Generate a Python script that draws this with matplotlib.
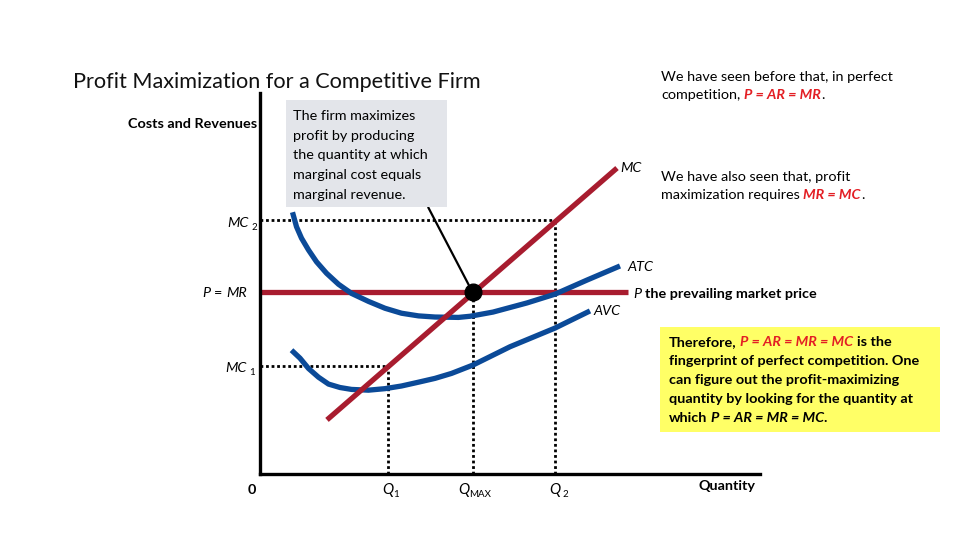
import matplotlib.pyplot as plt
from matplotlib.patches import Rectangle

plt.rcParams['font.family'] = ['Lato', 'DejaVu Sans']

# price / quantity values (quantity 0-100, price 0-100)
mc_q = [13.4, 71.4]
mc_p = [14.2, 80.3]

atc_q = [6.5, 7.3, 8.3, 9.7, 11.3, 13.3, 15.7, 18.3, 21.7, 25.0, 28.3, 31.7, 35.0, 39.7,
         42.0, 46.6, 53.4, 59.0, 65.4, 72.0]
atc_p = [68.7, 64.9, 61.9, 58.8, 55.7, 52.7, 49.8, 47.4, 45.3, 43.5, 42.2, 41.5, 41.2, 41.1,
         41.4, 42.5, 44.9, 47.2, 50.9, 54.6]

avc_q = [6.3, 8.0, 9.7, 11.7, 13.7, 16.0, 18.3, 21.7, 25.0, 28.3, 31.7, 35.0, 38.3,
         42.6, 50.0, 59.0, 66.0]
avc_p = [32.5, 30.4, 27.7, 25.4, 23.6, 22.7, 22.2, 22.0, 22.4, 23.1, 24.1, 25.1, 26.4,
         28.6, 33.4, 38.3, 42.8]

price = 47.8
price_end = 73.6
mc1, mc2 = 28.3, 66.7
q1, q_max, q2 = 25.6, 42.6, 59.0

RED_LINE = '#A81C2F'
BLUE = '#0B4A98'
RED_TXT = '#E31E24'
FS = 10.4

W, H = 960, 540
fig = plt.figure(figsize=(9.6, 5.4), dpi=100)
renderer = fig.canvas.get_renderer()


def fx(x):
    return x / W


def fy(y):
    return 1 - y / H


def rich(x, y, parts, size=FS, ha='left'):
    # parts: (text, props) placed one after another on a shared baseline
    made = []
    cur = 0.0
    for s, props in parts:
        props = dict(props)
        fs = props.pop('size', size)
        dy = props.pop('dy', 0)
        core = s.strip(' ')
        lead = len(s) - len(s.lstrip(' '))
        trail = len(s) - len(s.rstrip(' '))
        probe1 = fig.text(0, 0, 'a a', fontsize=fs, **props)
        probe2 = fig.text(0, 0, 'aa', fontsize=fs, **props)
        sp = probe1.get_window_extent(renderer).width - probe2.get_window_extent(renderer).width
        probe1.remove()
        probe2.remove()
        cur += lead * sp
        t = fig.text(0, 0, core, fontsize=fs, va='baseline', ha='left', **props)
        made.append((t, cur, dy))
        cur += t.get_window_extent(renderer).width + trail * sp
    x0 = x - cur if ha == 'right' else x
    for t, off, dy in made:
        t.set_position((fx(x0 + off), fy(y + dy)))


ax = fig.add_axes([fx(260), fy(474), 500 / W, 381 / H])
ax.patch.set_alpha(0)
ax.set_zorder(0)
ax.set_xlim(0, 100)
ax.set_ylim(0, 100)
for side in ['top', 'right']:
    ax.spines[side].set_visible(False)
for side in ['left', 'bottom']:
    ax.spines[side].set_linewidth(2.4)
    ax.spines[side].set_capstyle('projecting')
ax.set_xticks([])
ax.set_yticks([])

dot = dict(color='black', lw=2, linestyle=(0, (1, 1)), dash_capstyle='butt', zorder=1)
ax.plot([0, q2], [mc2, mc2], **dot)
ax.plot([q2, q2], [0, mc2], **dot)
ax.plot([0, q1], [mc1, mc1], **dot)
ax.plot([q1, q1], [0, mc1], **dot)
ax.plot([q_max, q_max], [0, price], **dot)

ax.plot([0, price_end], [price, price], color=RED_LINE, lw=3.8, solid_capstyle='butt', zorder=2)
ax.plot(atc_q, atc_p, color=BLUE, lw=3.8, solid_capstyle='butt', solid_joinstyle='round', zorder=3)
ax.plot(avc_q, avc_p, color=BLUE, lw=3.8, solid_capstyle='butt', solid_joinstyle='round', zorder=3)
ax.plot(mc_q, mc_p, color=RED_LINE, lw=3.8, solid_capstyle='butt', zorder=4)
ax.plot([q_max], [price], 'o', color='black', markersize=12, zorder=6)

# pointer from the grey note to the optimum
ax.annotate('', xy=(q_max - 0.6, price + 1.2), xytext=(fx(427), fy(205)),
            textcoords='figure fraction',
            arrowprops=dict(arrowstyle='-', color='black', lw=1.6), zorder=5)

# title and axis texts
fig.text(fx(73), fy(88), 'Profit Maximization for a Competitive Firm',
         fontsize=15.6, color='#111111', va='baseline')
fig.text(fx(257), fy(128), 'Costs and Revenues', fontsize=FS, fontweight='bold',
         ha='right', va='baseline')

# grey note
fig.add_artist(Rectangle((fx(286), fy(207)), 161 / W, 107 / H, transform=fig.transFigure,
                         facecolor='#E3E5EA', edgecolor='none', zorder=1))
note = ['The firm maximizes', 'profit by producing', 'the quantity at which',
        'marginal cost equals', 'marginal revenue.']
for i, line in enumerate(note):
    fig.text(fx(293), fy(120 + i * 19.7), line, fontsize=FS, va='baseline')

it = dict(fontstyle='italic')
sub = dict(size=7, dy=3)
rich(257, 227, [('MC', it), (' 2', sub)], ha='right')
rich(255, 372, [('MC', it), (' 1', sub)], ha='right')
rich(247, 297, [('P', it), (' = ', {}), ('MR', it)], ha='right')
rich(620, 172, [('MC', it)])
rich(627, 271, [('ATC', it)])
rich(593, 315, [('AVC', it)])
rich(633, 298, [('P', it), (' the prevailing market price', dict(fontweight='bold'))])

fig.text(fx(252), fy(494), '0', fontsize=FS, fontweight='bold', ha='center', va='baseline')
rich(382, 494, [('Q', it), ('1', sub)], size=10.8)
rich(458, 494, [('Q', it), ('MAX', sub)], size=10.8)
rich(549, 494, [('Q', it), (' 2', sub)], size=10.8)
fig.text(fx(727), fy(490), 'Quantity', fontsize=FS, fontweight='bold', ha='center', va='baseline')

# explanations on the right
red_bi = dict(color=RED_TXT, fontweight='bold', fontstyle='italic')
rich(661, 81, [('We have seen before that, in perfect', {})])
rich(661, 99, [('competition, ', {}), ('P = AR = MR', red_bi), ('.', {})])
rich(661, 181, [('We have also seen that, profit', {})])
rich(661, 199, [('maximization requires ', {}), ('MR = MC', red_bi), ('.', {})])

fig.add_artist(Rectangle((fx(660), fy(432)), 280 / W, 105 / H, transform=fig.transFigure,
                         facecolor='#FFFF66', edgecolor='none', zorder=1))
bold = dict(fontweight='bold')
bi = dict(fontweight='bold', fontstyle='italic')
rich(669, 346, [('Therefore, ', bold), ('P = AR = MR = MC', red_bi), (' is the', bold)])
rich(669, 365, [('fingerprint of perfect competition. One', bold)])
rich(669, 384, [('can figure out the profit-maximizing', bold)])
rich(669, 403, [('quantity by looking for the quantity at', bold)])
rich(669, 422, [('which ', bold), ('P = AR = MR = MC', bi), ('.', bold)])

fig.savefig('out.png', dpi=100)
